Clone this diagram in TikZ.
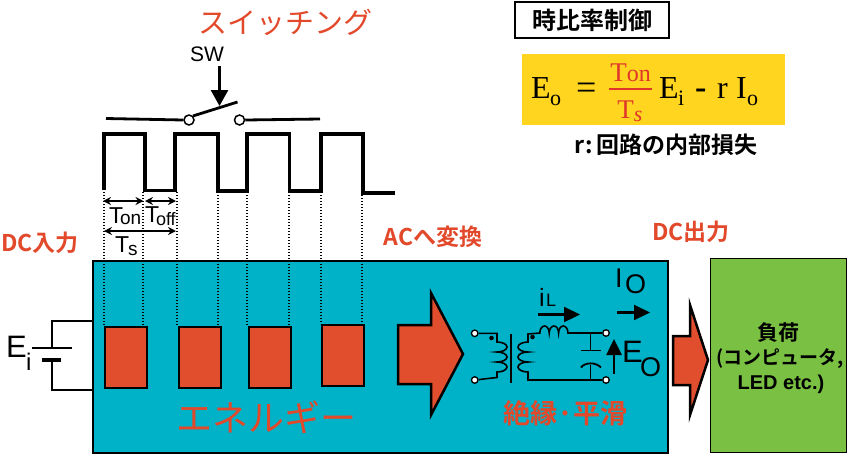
\documentclass[tikz,border=0pt]{standalone}
\usepackage{fontspec}
\setmainfont{Liberation Sans}
\newfontfamily\cjk[BoldFont={Noto Sans CJK JP Bold}]{Noto Sans CJK JP}
\newfontfamily\serifx{Liberation Serif}
\usetikzlibrary{arrows.meta}
\definecolor{redt}{HTML}{E2492B}
\definecolor{redf}{HTML}{E04E2E}
\definecolor{bluef}{HTML}{00B2C8}
\definecolor{greenf}{HTML}{7AC143}
\definecolor{yellowf}{HTML}{FFD520}
\definecolor{darkr}{HTML}{E0352B}
\newcommand{\fs}[1]{\fontsize{#1pt}{#1pt}\selectfont}
\tikzset{
  x=1pt,y=-1pt,
  lbl/.style={inner sep=0pt,outer sep=0pt,align=center},
  redlabel/.style={lbl,text=redt,font=\bfseries\fs{23}\cjk},
  sans/.style={lbl,font=\fs{24}},
  fm/.style={lbl,anchor=base west,font=\serifx\fs{32}},
  fsub/.style={lbl,anchor=base west,font=\serifx\fs{22}},
  dotln/.style={line width=1.4pt,dash pattern=on 1.4pt off 1.6pt},
  pulse/.style={line width=3.2pt,miter limit=2},
  thinln/.style={line width=1.6pt},
  dim/.style={line width=1.6pt,{Stealth[length=8pt,width=8pt]}-{Stealth[length=8pt,width=8pt]}},
  redbox/.style={draw=black,fill=redf,line width=2.2pt,inner sep=0pt,minimum width=42pt,minimum height=61pt},
  bigar/.style={draw=black,fill=redf,line width=2.5pt,miter limit=10},
  term/.style={circle,draw=black,fill=white,line width=1.3pt,inner sep=0pt,minimum size=6.5pt},
  sw/.style={circle,draw=black,fill=white,line width=1.5pt,inner sep=0pt,minimum size=10pt},
  circ/.style={line width=1.6pt}
}
\begin{document}
\begin{tikzpicture}
\useasboundingbox (0,0) rectangle (850,456);
% panels
\node[draw=black,fill=bluef,line width=1.8pt,minimum width=575pt,minimum height=192pt,inner sep=0pt,anchor=north west] (panel) at (92,260) {};
\node[draw=black,fill=greenf,line width=1pt,minimum width=136pt,minimum height=194pt,inner sep=0pt,anchor=north west] (load) at (710,258) {};
% red blocks
\node[redbox,anchor=north west] (r1) at (104,326) {};
\node[redbox,anchor=north west] (r2) at (177.5,326) {};
\node[redbox,anchor=north west] (r3) at (248,326) {};
\node[redbox,anchor=north west] (r4) at (321,324) {};
% dotted guides
\foreach \a/\b in {104/326,143/326,177/326,218/326,247/326,289/326,321/324,362/324}
  \draw[dotln] (\a,192) -- (\a,\b);
% pulse
\draw[pulse] (104,190) |- (145,134) -- (145,190.5) -- (175,190.5) -- (175,134) -- (218,134) -- (218,191) -- (247,191) -- (247,134) -- (289.5,134) -- (289.5,191) -- (321,191) -- (321,134) -- (363,134) -- (363,193) -- (395,193);
% switch
\node[sw] (swa) at (189,120) {};
\node[sw] (swb) at (239.5,120) {};
\coordinate (wl) at (106,118.5);
\coordinate (wr) at (320,119);
\coordinate (bl) at (237.5,102);
\draw[line width=2.8pt] (wl) -- (swa.west);
\draw[line width=2.8pt] (swb.east) -- (wr);
\draw[line width=2.8pt] (swa.north east) -- (bl);
\node[sans,font=\fs{21}] (swt) at (207,54) {SW};
\coordinate (sa) at (219.5,66);
\coordinate (sb) at (219.5,106);
\draw[line width=2.6pt,-{Stealth[length=16pt,width=17pt,inset=0pt]}] (sa) -- (sb);
\node[lbl,text=redt,font=\fs{29}\cjk] (title) at (285,22) {スイッチング};
% dimensions
\coordinate (d1) at (103,201); \coordinate (d2) at (143.5,201); \coordinate (d3) at (145,201); \coordinate (d4) at (176,201);
\coordinate (d5) at (104,231); \coordinate (d6) at (176,231);
\draw[dim] (d1) -- (d2);
\draw[dim] (d3) -- (d4);
\draw[dim] (d5) -- (d6);
\node[lbl,anchor=base west,font=\fs{23}] (ton) at (109,223) {T\kern-3pt\raisebox{-1.5pt}{\fs{19}on}};
\node[lbl,anchor=base west,font=\fs{23}] (toff) at (145,222) {T\kern-3pt\raisebox{-3pt}{\fs{18}off}};
\node[lbl,anchor=base west,font=\fs{23}] (ts) at (115,252) {T\kern-1pt\raisebox{-3pt}{\fs{19}s}};
% red labels
\node[redlabel] (dcin) at (40,243) {DC入力};
\node[redlabel] (acc) at (433,237) {ACへ変換};
\node[redlabel] (dcout) at (691,232) {DC出力};
\node[lbl,text=redt,font=\fs{36}\cjk] (ene) at (266,417) {エネルギー};
\node[lbl,text=redt,font=\bfseries\fs{27}\cjk] (iso) at (565,413) {絶縁·平滑};
% big arrows
\draw[bigar] (398,325) -- (431,325) -- (431,293) -- (463,354) -- (431,415) -- (431,384) -- (398,384) -- cycle;
\draw[bigar] (673,336) -- (690,336) -- (690,305) -- (708,360) -- (690,415) -- (690,385) -- (673,385) -- cycle;
% battery
\coordinate (bt) at (52,321); \coordinate (bb) at (52,390);
\coordinate (p1a) at (32,348); \coordinate (p1b) at (72,348);
\coordinate (p2a) at (42,359.5); \coordinate (p2b) at (61,359.5);
\draw[thinln] (panel.west |- bt) -- (bt) -- (52,348);
\draw[thinln] (panel.west |- bb) -- (bb) -- (52,360);
\draw[line width=1.8pt] (p1a) -- (p1b);
\draw[line width=4pt] (p2a) -- (p2b);
\node[lbl,anchor=base west,font=\fs{31}] (ei) at (6,357) {E};
\node[lbl,anchor=base west,font=\fs{24}] (eis) at (26,370) {i};
% transformer & filter
\node[term] (t1) at (474.7,333.3) {};
\node[term] (t2) at (474.7,380) {};
\node[term] (t3) at (606,333) {};
\node[term] (t4) at (606,380) {};
\draw[circ] (t1) -- (497,333.3) -- (497,342)
  arc[start angle=-90,end angle=90,x radius=10,y radius=5]
  arc[start angle=-90,end angle=90,x radius=10,y radius=5]
  arc[start angle=-90,end angle=90,x radius=10,y radius=5]
  -- (497,377.5) -- (t2);
\draw[line width=1.8pt] (511,334) -- (511,383);
\draw[circ] (t3) -- (568,333)
  arc[start angle=0,end angle=-180,x radius=4.7,y radius=7]
  arc[start angle=0,end angle=-180,x radius=4.7,y radius=7]
  arc[start angle=0,end angle=-180,x radius=4.7,y radius=7]
  -- (528,334) -- (528,342)
  arc[start angle=270,end angle=90,x radius=10,y radius=5]
  arc[start angle=270,end angle=90,x radius=10,y radius=5]
  arc[start angle=270,end angle=90,x radius=10,y radius=5]
  -- (528,380) -- (t4);
\coordinate (c1) at (590.5,333); \coordinate (c2) at (590.5,350.5); \coordinate (c3) at (590.5,365); \coordinate (c4) at (590.5,380);
\draw[circ] (c1) -- (c2);
\draw[circ] (c3) -- (c4);
\draw[line width=1.8pt] (581,350.5) -- (601,350.5);
\draw[line width=1.8pt] (581,367.5) .. controls (585,362) and (596,362) .. (601,367.5);
\fill (491.5,338) circle (2.3pt);
\fill (532.5,337) circle (2.3pt);
% circuit arrows
\coordinate (il1) at (538,314.5); \coordinate (il2) at (580,314.5);
\draw[line width=2.2pt,-{Stealth[length=16pt,width=15pt,inset=0pt]}] (il1) -- (il2);
\coordinate (io1) at (617,312.5); \coordinate (io2) at (650,312.5);
\draw[line width=2.2pt,-{Stealth[length=16pt,width=15pt,inset=0pt]}] (io1) -- (io2);
\coordinate (eo1) at (614,374); \coordinate (eo2) at (614,339);
\draw[line width=2.6pt,-{Stealth[length=16pt,width=15pt,inset=0pt]}] (eo1) -- (eo2);
\node[lbl,anchor=base west,font=\fs{25}] (il) at (539,306) {i};
\node[lbl,anchor=base west,font=\fs{18}] (ils) at (546,306) {L};
\node[lbl,anchor=base west,font=\fs{27}] (iot) at (615,287) {I};
\node[lbl,anchor=base west,font=\fs{27}] (ios) at (625,293) {O};
\node[lbl,anchor=base west,font=\fs{31}] (eot) at (622,362) {E};
\node[lbl,anchor=base west,font=\fs{27}] (eos) at (640,376) {O};
% load text
\node[lbl,font=\bfseries\fs{21}\cjk] (load1) at (778,333) {負荷};
\node[lbl,font=\bfseries\fs{19}\cjk] (load2) at (780,359) {(コンピュータ,};
\node[lbl,font=\bfseries\fs{20}] (load3) at (781,384) {LED etc.)};
% duty control
\node[draw=black,fill=white,line width=1.6pt,minimum width=154pt,minimum height=36pt,inner sep=0pt,font=\bfseries\fs{24}\cjk] (duty) at (592,20) {時比率制御};
\node[fill=yellowf,minimum width=263pt,minimum height=71pt,inner sep=0pt,anchor=north west] (eq) at (522,54) {};
\node[fm] (e1) at (531,98) {E};
\node[fsub] (e2) at (550,105) {o};
\node[lbl,anchor=base west,font=\serifx\fs{36}] (e3) at (576,99) {=};
\coordinate (fa) at (609,89); \coordinate (fb) at (652,89);
\draw[line width=1.4pt,color=darkr] (fa) -- (fb);
\node[lbl,anchor=base,text=darkr,font=\serifx\fs{27}] (tn) at (630.5,81) {T\fs{24}on};
\node[lbl,anchor=base,text=darkr,font=\serifx\fs{27}] (td) at (630,118) {T\raisebox{-3pt}{\itshape\fs{22}s}};
\node[fm] (e4) at (659,98) {E};
\node[fsub] (e5) at (678,105) {i};
\node[fm,font=\bfseries\serifx\fs{34}] (e6) at (695,98) {-};
\node[fm] (e7) at (717,98) {r};
\node[fm] (e8) at (736,98) {I};
\node[fsub] (e9) at (747,105) {o};
\node[lbl,font=\bfseries\fs{23}\cjk] (rnote) at (666,145) {r:\,回路の内部損失};
\end{tikzpicture}
\end{document}
